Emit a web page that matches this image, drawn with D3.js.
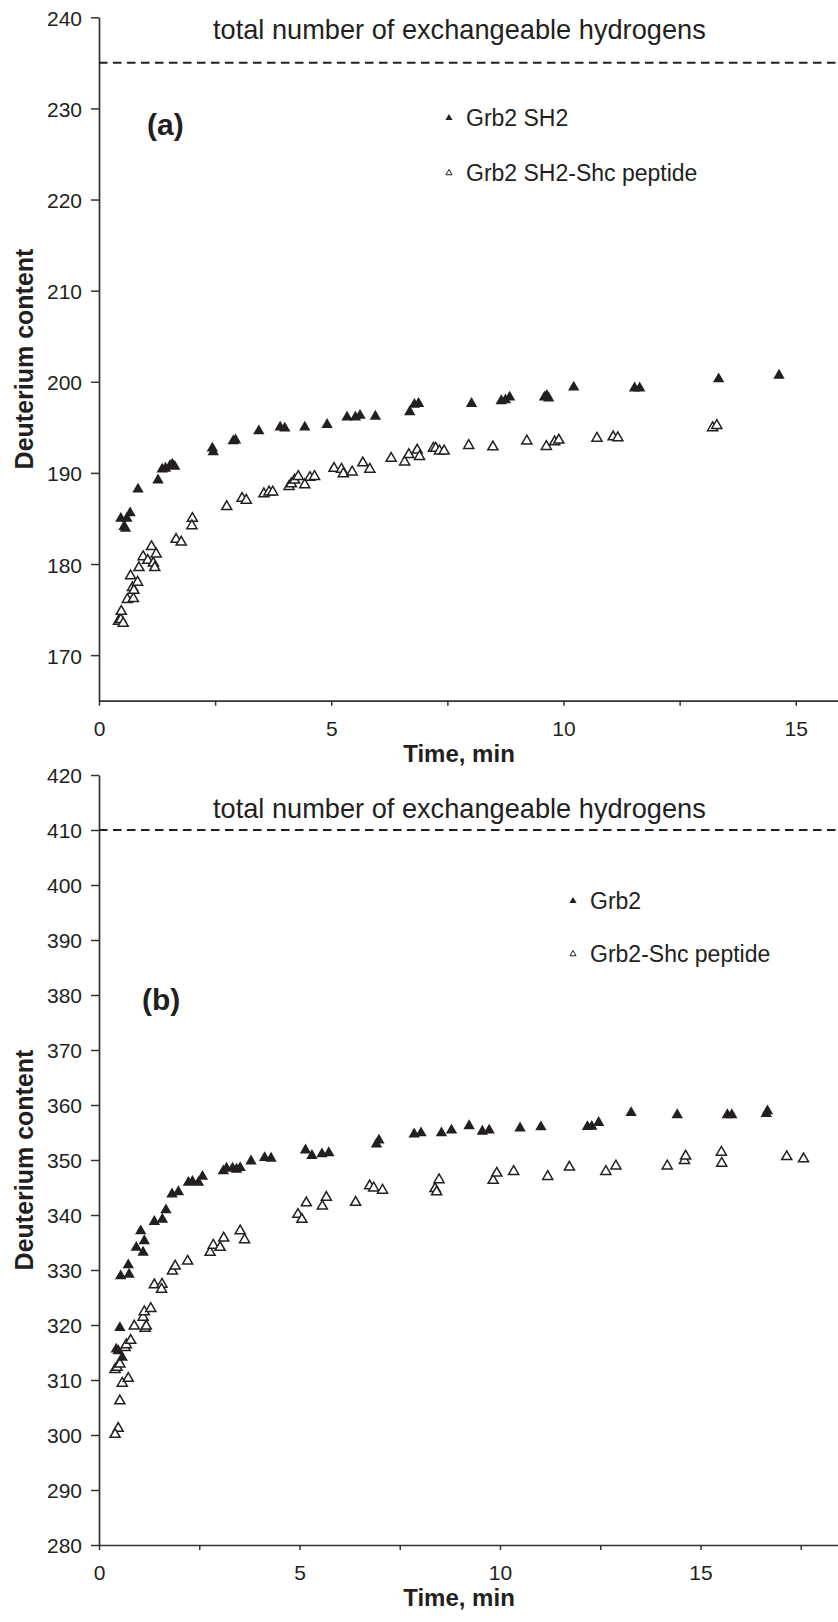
<!DOCTYPE html>
<html>
<head>
<meta charset="utf-8">
<script src="https://d3js.org/d3.v7.min.js"></script>
<style>
  html, body { margin: 0; padding: 0; background: #fff; }
  svg { display: block; font-family: "Liberation Sans", Arial, Helvetica, sans-serif; }
</style>
</head>
<body>
<svg id="chart" width="838" height="1622"></svg>
<script>
// ---------- DATA ----------
// Panel (a): [time (min), deuterium content]
const sh2Free = [
  [0.47,185.0],[0.60,185.0],[0.54,184.1],[0.57,183.9],[0.67,185.6],[0.84,188.2],
  [1.27,189.2],[1.36,190.4],[1.43,190.5],[1.53,190.8],[1.58,190.95],[1.63,190.7],
  [2.44,192.7],[2.46,192.3],[2.89,193.5],[2.94,193.6],[3.44,194.6],[3.90,195.0],
  [4.00,194.9],[4.43,195.0],[4.91,195.3],[5.34,196.1],[5.52,196.1],[5.62,196.3],
  [5.95,196.2],[6.69,196.7],[6.79,197.5],[6.88,197.6],[8.02,197.6],[8.66,197.9],
  [8.75,198.0],[8.84,198.3],[9.59,198.3],[9.64,198.5],[9.68,198.2],[10.22,199.4],
  [11.53,199.3],[11.64,199.3],[13.34,200.3],[14.64,200.7]
];
const sh2Shc = [
  [0.42,173.7],[0.47,173.9],[0.48,174.8],[0.52,173.5],[0.61,176.1],[0.68,178.7],
  [0.72,177.4],[0.74,176.2],[0.75,177.1],[0.83,178.0],[0.86,179.6],[0.95,180.8],
  [1.05,180.4],[1.13,181.9],[1.17,180.1],[1.20,179.6],[1.23,181.1],[1.66,182.7],
  [1.77,182.4],[2.01,185.0],[2.00,184.2],[2.75,186.3],[3.08,187.2],[3.17,187.0],
  [3.55,187.7],[3.66,187.9],[3.74,187.9],[4.09,188.5],[4.14,188.8],[4.21,189.2],
  [4.29,189.6],[4.43,188.7],[4.54,189.5],[4.64,189.6],[5.06,190.5],[5.22,190.4],
  [5.26,189.9],[5.45,190.1],[5.68,191.1],[5.83,190.4],[6.29,191.6],[6.58,191.2],
  [6.67,192.0],[6.85,192.5],[6.90,191.8],[7.20,192.7],[7.25,192.7],[7.33,192.4],
  [7.43,192.4],[7.96,193.0],[8.48,192.85],[9.21,193.5],[9.63,192.9],[9.81,193.4],
  [9.90,193.6],[10.72,193.8],[11.07,193.95],[11.17,193.85],[13.21,194.95],[13.30,195.2]
];
// Panel (b)
const grb2Free = [
  [0.52,319.5],[0.43,315.6],[0.48,315.3],[0.58,314.1],[0.54,328.9],[0.75,329.2],
  [0.73,330.9],[0.93,334.1],[1.04,337.1],[1.10,333.2],[1.13,335.3],[1.38,338.8],
  [1.58,339.2],[1.67,340.9],[1.82,343.8],[1.98,344.2],[2.23,345.9],[2.33,346.1],
  [2.48,345.9],[2.58,347.0],[3.10,348.0],[3.18,348.5],[3.33,348.5],[3.43,348.3],
  [3.52,348.6],[3.79,349.8],[4.13,350.4],[4.29,350.3],[5.15,351.8],[5.31,350.8],
  [5.56,351.1],[5.73,351.3],[6.92,352.85],[6.98,353.6],[7.86,354.7],[8.03,354.9],
  [8.54,354.9],[8.79,355.4],[9.23,356.2],[9.56,355.2],[9.73,355.4],[10.50,355.8],
  [11.02,356.0],[12.18,356.05],[12.29,356.1],[12.46,356.8],[13.27,358.6],[14.42,358.2],
  [15.67,358.2],[15.78,358.2],[16.64,358.4],[16.67,358.9]
];
const grb2Shc = [
  [0.40,311.9],[0.45,312.3],[0.52,312.9],[0.58,309.4],[0.73,310.3],[0.52,306.2],
  [0.48,301.2],[0.40,300.1],[0.65,315.9],[0.68,316.4],[0.79,317.2],[0.88,319.8],
  [1.10,321.4],[1.13,322.4],[1.29,323.0],[1.15,319.4],[1.18,319.8],[1.38,327.3],
  [1.57,327.4],[1.56,326.5],[1.83,329.8],[1.90,330.7],[2.21,331.6],[2.77,333.2],
  [2.85,334.5],[3.02,334.1],[3.11,335.8],[3.52,337.1],[3.63,335.5],[4.96,340.1],
  [5.06,339.2],[5.17,342.2],[5.57,341.6],[5.67,343.2],[6.40,342.3],[6.75,345.3],
  [6.85,344.9],[7.07,344.5],[8.38,344.8],[8.42,344.2],[8.48,346.4],[9.83,346.3],
  [9.92,347.6],[10.34,347.9],[11.19,347.0],[11.73,348.7],[12.64,347.9],[12.89,348.9],
  [14.17,348.9],[14.60,349.9],[14.63,350.7],[15.52,351.4],[15.53,349.4],[17.15,350.6],
  [17.57,350.2]
];
const totalA = 235;
const totalB = 410;
const xTicksA = [0, 2.5, 5, 7.5, 10, 12.5, 15];
const xTicksB = [0, 2.5, 5, 7.5, 10, 12.5, 15, 17.5];
const xLabelTicks = [0, 5, 10, 15];
const yTicksA = [170, 180, 190, 200, 210, 220, 230, 240];
const yTicksB = [280, 290, 300, 310, 320, 330, 340, 350, 360, 370, 380, 390, 400, 410, 420];
const titleText = "total number of exchangeable hydrogens";
const legendA = ["Grb2 SH2", "Grb2 SH2-Shc peptide"];
const legendB = ["Grb2", "Grb2-Shc peptide"];
const xTitle = "Time, min";
const yTitle = "Deuterium content";

// ---------- DRAW ----------
const svg = d3.select("#chart");
const INK = "#231f20";
const AX = "#333";

function panel(cfg) {
  const g = svg.append("g");
  const x = d3.scaleLinear().domain(cfg.xDomain).range(cfg.xRange);
  const y = d3.scaleLinear().domain(cfg.yDomain).range(cfg.yRange);

  // x axis
  const xAxis = d3.axisBottom(x).tickValues(cfg.xTicks).tickSize(5).tickSizeOuter(0)
    .tickFormat(d => xLabelTicks.includes(d) ? d3.format("d")(d) : "");
  const gx = g.append("g").attr("transform", `translate(0,${cfg.yRange[0]})`).call(xAxis);
  gx.select(".domain").attr("stroke", AX).attr("stroke-width", 1.7);
  gx.selectAll(".tick line").attr("stroke", AX).attr("stroke-width", 1.5);
  gx.selectAll(".tick text").attr("fill", INK).attr("font-size", 21).attr("dy", 0)
    .attr("y", 35).attr("font-family", "Liberation Sans, Arial, sans-serif");

  // y axis
  const yAxis = d3.axisLeft(y).tickValues(cfg.yTicks).tickSize(8).tickSizeOuter(0).tickPadding(9)
    .tickFormat(d3.format("d"));
  const gy = g.append("g").attr("transform", `translate(${cfg.xRange[0]},0)`).call(yAxis);
  gy.select(".domain").attr("stroke", AX).attr("stroke-width", 1.7);
  gy.selectAll(".tick line").attr("stroke", AX).attr("stroke-width", 1.5);
  gy.selectAll(".tick text").attr("fill", INK).attr("font-size", 21).attr("dy", "0.38em")
    .attr("font-family", "Liberation Sans, Arial, sans-serif");

  // dashed total line
  g.append("line")
    .attr("x1", x(0)).attr("x2", 838)
    .attr("y1", y(cfg.total)).attr("y2", y(cfg.total))
    .attr("stroke", INK).attr("stroke-width", 2).attr("stroke-dasharray", "8.5,5.5");

  g.append("text").attr("x", 213).attr("y", cfg.titleY)
    .attr("font-size", 27.2).attr("fill", INK).text(titleText);

  // panel label
  g.append("text").attr("x", cfg.labelPos[0]).attr("y", cfg.labelPos[1])
    .attr("font-size", 30).attr("font-weight", "bold").attr("fill", INK).text(cfg.label);

  const triFilled = d3.symbol(d3.symbolTriangle, 56);
  const triOpen = d3.symbol(d3.symbolTriangle, 44);

  // series
  g.append("g").selectAll("path").data(cfg.open).join("path")
    .attr("d", triOpen)
    .attr("transform", d => `translate(${x(d[0])},${y(d[1])})`)
    .attr("fill", "#fff").attr("stroke", INK).attr("stroke-width", 1.5);
  g.append("g").selectAll("path").data(cfg.filled).join("path")
    .attr("d", triFilled)
    .attr("transform", d => `translate(${x(d[0])},${y(d[1])})`)
    .attr("fill", INK);

  // legend
  const lg = g.append("g");
  lg.append("path").attr("d", d3.symbol(d3.symbolTriangle, 22))
    .attr("transform", `translate(${cfg.legendPos[0]},${cfg.legendPos[1]})`).attr("fill", INK);
  lg.append("text").attr("x", cfg.legendPos[0] + 17).attr("y", cfg.legendPos[1] + 8)
    .attr("font-size", 23).attr("fill", INK).text(cfg.legend[0]);
  lg.append("path").attr("d", d3.symbol(d3.symbolTriangle, 16))
    .attr("transform", `translate(${cfg.legendPos[0]},${cfg.legendPos[1] + cfg.legendGap})`)
    .attr("fill", "#fff").attr("stroke", INK).attr("stroke-width", 1);
  lg.append("text").attr("x", cfg.legendPos[0] + 17).attr("y", cfg.legendPos[1] + cfg.legendGap + 8)
    .attr("font-size", 23).attr("fill", INK).text(cfg.legend[1]);

  // axis titles
  g.append("text").attr("x", 459).attr("y", cfg.yRange[0] + 61)
    .attr("text-anchor", "middle").attr("font-size", 24).attr("font-weight", "bold")
    .attr("fill", INK).text(xTitle);
  const cy = (cfg.yRange[0] + cfg.yRange[1]) / 2;
  g.append("text").attr("transform", `translate(33,${cy}) rotate(-90)`)
    .attr("text-anchor", "middle").attr("font-size", 25).attr("font-weight", "bold")
    .attr("fill", INK).text(yTitle);
}

panel({
  xDomain: [0, 16], xRange: [99, 99 + 16 * 46.45],
  yDomain: [165, 240], yRange: [700.7, 17.3],
  xTicks: xTicksA, yTicks: yTicksA, total: totalA, titleY: 39,
  label: "(a)", labelPos: [147, 135],
  filled: sh2Free, open: sh2Shc,
  legend: legendA, legendPos: [449, 118], legendGap: 55
});

panel({
  xDomain: [0, 18.5], xRange: [99, 99 + 18.5 * 40.1],
  yDomain: [280, 420], yRange: [1545, 775],
  xTicks: xTicksB, yTicks: yTicksB, total: totalB, titleY: 818,
  label: "(b)", labelPos: [142, 1010],
  filled: grb2Free, open: grb2Shc,
  legend: legendB, legendPos: [573, 901], legendGap: 53
});
</script>
</body>
</html>
